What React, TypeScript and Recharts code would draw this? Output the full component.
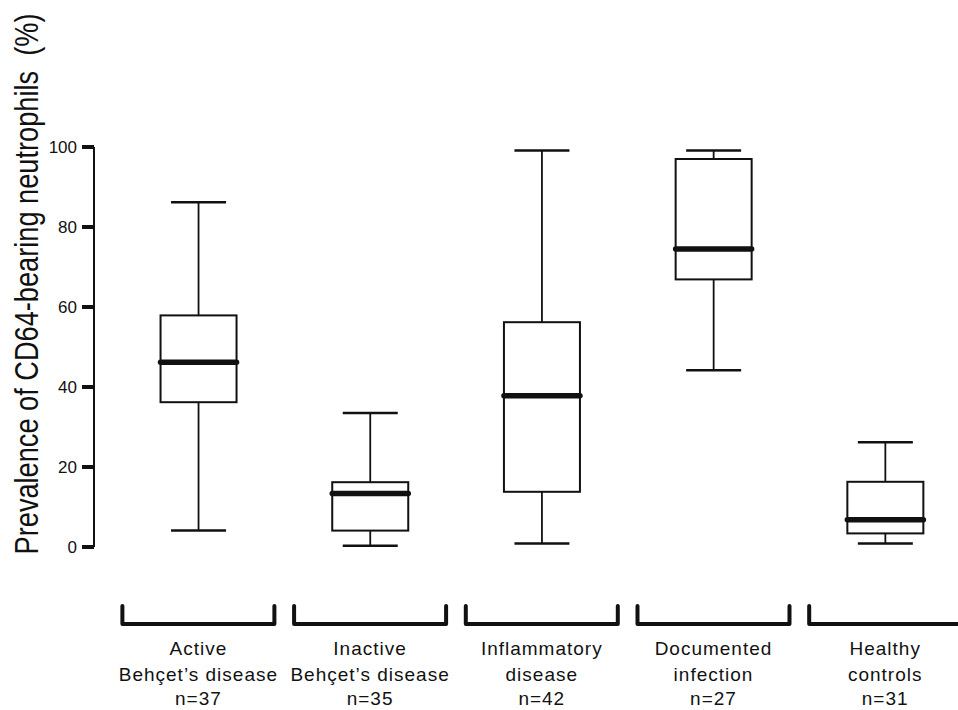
import React from 'react';
import { BarChart, Bar, XAxis, YAxis } from 'recharts';

const groupLine1 = ['Active', 'Inactive', 'Inflammatory', 'Documented', 'Healthy'];
const groupLine2 = ['Behçet’s disease', 'Behçet’s disease', 'disease', 'infection', 'controls'];
const groupN = [37, 35, 42, 27, 31];

const minValues = [4.1, 0.3, 0.9, 44.2, 0.9];
const q1Values = [36.2, 4.1, 13.8, 66.9, 3.4];
const medianValues = [46.2, 13.4, 37.8, 74.5, 6.8];
const q3Values = [57.9, 16.2, 56.2, 97.0, 16.3];
const maxValues = [86.2, 33.5, 99.1, 99.1, 26.2];

const yTicks = [0, 20, 40, 60, 80, 100];
const yLabel = 'Prevalence of CD64-bearing neutrophils\u00a0\u00a0(%)';

const FONT = '"Liberation Sans", Arial, Helvetica, sans-serif';
const INK = '#111';

const data = groupLine1.map((_, i) => ({
  idx: i,
  range: [minValues[i], maxValues[i]],
  min: minValues[i],
  q1: q1Values[i],
  median: medianValues[i],
  q3: q3Values[i],
  max: maxValues[i],
}));

const BoxShape = (props: any) => {
  const { x, y, width, height, payload } = props;
  if (!payload) return null;
  const { min, q1, median, q3, max } = payload;
  const py = (v: number) => y + ((max - v) / (max - min)) * height;
  const cx = x + width / 2;
  const capHalf = 27.5;
  return (
    <g>
      <line x1={cx} x2={cx} y1={py(max)} y2={py(q3)} stroke={INK} strokeWidth={1.8} />
      <line x1={cx} x2={cx} y1={py(q1)} y2={py(min)} stroke={INK} strokeWidth={1.8} />
      <line x1={cx - capHalf} x2={cx + capHalf} y1={py(max)} y2={py(max)} stroke={INK} strokeWidth={2.5} />
      <line x1={cx - capHalf} x2={cx + capHalf} y1={py(min)} y2={py(min)} stroke={INK} strokeWidth={2.5} />
      <rect x={x} y={py(q3)} width={width} height={py(q1) - py(q3)} fill="#fff" stroke={INK} strokeWidth={2} />
      <line x1={x} x2={x + width} y1={py(median)} y2={py(median)} stroke={INK} strokeWidth={5.5} strokeLinecap="round" />
    </g>
  );
};

const CategoryTick = (props: any) => {
  const { x, y, payload } = props;
  const i = payload.value;
  const half = 76;
  return (
    <g>
      <path
        d={`M${x - half},${y + 59} L${x - half},${y + 77} L${x + half},${y + 77} L${x + half},${y + 59}`}
        fill="none"
        stroke={INK}
        strokeWidth={4}
        strokeLinejoin="round"
        strokeLinecap="round"
      />
      <text x={x} y={y + 108} textAnchor="middle" fontSize={19} fontFamily={FONT} fill={INK} letterSpacing={1}>
        {groupLine1[i]}
      </text>
      <text x={x} y={y + 134} textAnchor="middle" fontSize={19} fontFamily={FONT} fill={INK} letterSpacing={1}>
        {groupLine2[i]}
      </text>
      <text x={x} y={y + 158} textAnchor="middle" fontSize={19} fontFamily={FONT} fill={INK} letterSpacing={1}>
        {`n=${groupN[i]}`}
      </text>
    </g>
  );
};

const YLabel = () => (
  <text
    transform="translate(38,284) rotate(-90) scale(0.8,1)"
    x={0}
    y={0}
    textAnchor="middle"
    fontSize={34}
    fontFamily={FONT}
    fill={INK}
  >
    {yLabel}
  </text>
);

export default function App() {
  return (
    <div style={{ position: 'fixed', left: 0, top: 0, width: 958, height: 710, background: '#fff' }}>
      <BarChart
        width={958}
        height={710}
        data={data}
        margin={{ top: 147, right: 0, bottom: 0, left: 0 }}
        barSize={76}
      >
        <XAxis
          type="number"
          dataKey="idx"
          domain={[-0.608, 4.424]}
          ticks={[0, 1, 2, 3, 4]}
          interval={0}
          axisLine={false}
          tickLine={false}
          tickSize={0}
          tickMargin={0}
          height={163}
          tick={<CategoryTick />}
          allowDataOverflow
        />
        <YAxis
          type="number"
          domain={[0, 100]}
          ticks={yTicks}
          interval={0}
          width={94}
          tickSize={12}
          tickMargin={5}
          axisLine={{ stroke: INK, strokeWidth: 2 }}
          tickLine={{ stroke: INK, strokeWidth: 4 }}
          tick={{ fill: INK, fontSize: 17, fontFamily: FONT }}
          label={{ content: () => <YLabel /> }}
        />
        <Bar dataKey="range" shape={<BoxShape />} isAnimationActive={false} />
      </BarChart>
    </div>
  );
}
